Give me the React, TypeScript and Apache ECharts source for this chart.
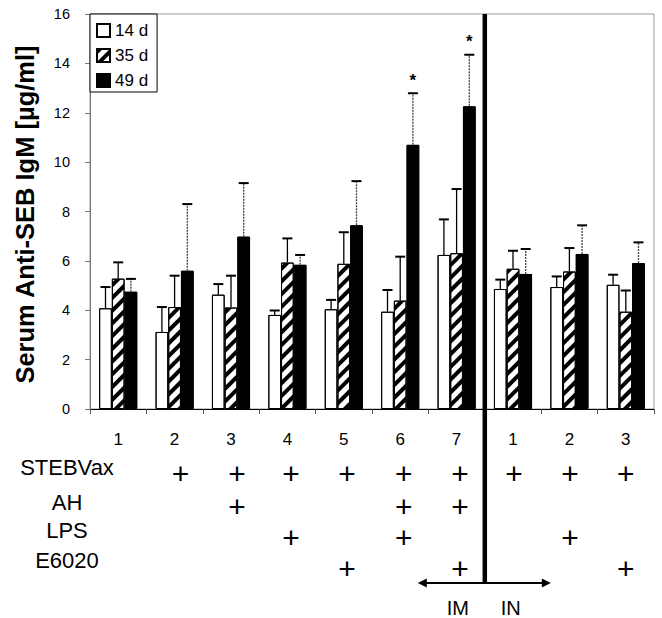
import React, { useEffect, useRef } from 'react';
import * as echarts from 'echarts';

const categories = ['IM 1', 'IM 2', 'IM 3', 'IM 4', 'IM 5', 'IM 6', 'IM 7', 'IN 1', 'IN 2', 'IN 3'];
const tickLabels = ['1', '2', '3', '4', '5', '6', '7', '1', '2', '3'];
const seriesNames = ['14 d', '35 d', '49 d'];

const d14 = [4.08, 3.12, 4.63, 3.81, 4.04, 3.94, 6.24, 4.86, 4.94, 5.03];
const d14Err = [4.94, 4.13, 5.06, 3.99, 4.42, 4.82, 7.68, 5.24, 5.37, 5.44];
const d35 = [5.28, 4.13, 4.11, 5.93, 5.88, 4.39, 6.31, 5.68, 5.57, 3.94];
const d35Err = [5.94, 5.4, 5.4, 6.91, 7.16, 6.17, 8.91, 6.41, 6.52, 4.8];
const d49 = [4.75, 5.6, 6.98, 5.84, 7.44, 10.7, 12.26, 5.47, 6.28, 5.91];
const d49Err = [5.27, 8.3, 9.15, 6.24, 9.23, 12.79, 14.35, 6.48, 7.44, 6.75];
const significant = [0, 0, 0, 0, 0, 1, 1, 0, 0, 0];

const rowNames = ['STEBVax', 'AH', 'LPS', 'E6020'];
const rowFlags = [
  [0, 1, 1, 1, 1, 1, 1, 1, 1, 1],
  [0, 0, 1, 0, 0, 1, 1, 0, 0, 0],
  [0, 0, 0, 1, 0, 1, 0, 0, 1, 0],
  [0, 0, 0, 0, 1, 0, 1, 0, 0, 1],
];
const routeNames = ['IM', 'IN'];

// layout (pixels)
const FONT = "'Liberation Sans', Arial, Helvetica, sans-serif";
const BAR_W = 12.7;
const rowLabelY = [467, 502, 530, 560];
const rowPlusY = [473, 506, 537, 568];
const plusNudge = [5, 6, 6, 3.5, 3.3, 3.6, 3.4, 1, 0.6, 0];
const ARROW_Y = 583;

const invisibleDecal = { color: 'rgba(0,0,0,0)', dashArrayX: [1, 0], dashArrayY: [1, 0] };

function makeErr(vals: number[], errs: number[], s: number, dashed: boolean, stars?: number[]) {
  return {
    type: 'custom',
    name: 'err' + s,
    z: 5,
    silent: true,
    encode: { x: 0, y: [1, 2] },
    data: vals.map((v, i) => [i, v, errs[i], stars ? stars[i] : 0]),
    renderItem: (params: any, api: any) => {
      const i = api.value(0);
      const base = api.coord([i, api.value(1)]);
      const top = api.coord([i, api.value(2)]);
      const x = base[0] + (s - 1) * BAR_W;
      const children: any[] = [
        {
          type: 'line',
          shape: { x1: x, y1: base[1], x2: x, y2: top[1] },
          style: { stroke: dashed ? '#444' : '#000', lineWidth: 1.3, lineDash: dashed ? [2, 1] : null },
        },
        {
          type: 'line',
          shape: { x1: x - 5, y1: top[1], x2: x + 5, y2: top[1] },
          style: { stroke: '#000', lineWidth: 2 },
        },
      ];
      if (api.value(3)) {
        children.push({
          type: 'text',
          x: x,
          y: top[1] - 13,
          style: {
            text: '*',
            fontSize: 17,
            fontWeight: 'bold',
            fontFamily: FONT,
            fill: '#000',
            align: 'center',
            verticalAlign: 'middle',
          },
        });
      }
      return { type: 'group', children };
    },
  };
}

export default function App() {
  const ref = useRef<HTMLDivElement>(null);

  useEffect(() => {
    if (!ref.current) return;
    const chart = echarts.init(ref.current, null, { renderer: 'svg' });

    const option: any = {
      animation: false,
      aria: { enabled: true, decal: { show: true } },
      textStyle: { fontFamily: FONT },
      grid: {
        left: 90,
        right: 8,
        top: 14,
        bottom: 209,
        show: true,
        borderColor: '#999',
        borderWidth: 1,
        backgroundColor: 'transparent',
      },
      legend: {
        data: seriesNames,
        orient: 'vertical',
        left: 90,
        top: 14,
        padding: [8, 9, 3, 6],
        itemWidth: 13,
        itemHeight: 13,
        itemGap: 8,
        icon: 'rect',
        borderColor: '#000',
        borderWidth: 1,
        backgroundColor: '#fff',
        textStyle: { fontSize: 17, color: '#000', fontFamily: FONT, lineHeight: 17 },
      },
      xAxis: {
        type: 'category',
        data: categories,
        axisLine: { lineStyle: { color: '#000', width: 1 } },
        axisTick: { show: true, length: 5, lineStyle: { color: '#555' } },
        axisLabel: {
          formatter: (v: string, i: number) => tickLabels[i],
          fontSize: 17,
          color: '#000',
          margin: 22,
          fontFamily: FONT,
        },
        splitLine: { show: false },
      },
      yAxis: {
        type: 'value',
        min: 0,
        max: 16,
        interval: 2,
        name: 'Serum Anti-SEB IgM [µg/ml]',
        nameLocation: 'middle',
        nameGap: 52,
        nameTextStyle: {
          fontSize: 25.5,
          fontWeight: 'bold',
          color: '#000',
          fontFamily: FONT,
          padding: [0, 6, 0, 0],
        },
        axisLine: { show: true, lineStyle: { color: '#777' } },
        axisTick: { show: true, length: 5, lineStyle: { color: '#777' } },
        axisLabel: { fontSize: 14.5, color: '#000', margin: 20, fontFamily: FONT },
        splitLine: { show: false },
      },
      series: [
        {
          type: 'bar',
          name: seriesNames[0],
          data: d14,
          barWidth: BAR_W,
          barGap: '0%',
          itemStyle: { color: '#fff', borderColor: '#000', borderWidth: 1, decal: invisibleDecal },
        },
        {
          type: 'bar',
          name: seriesNames[1],
          data: d35,
          barWidth: BAR_W,
          barGap: '0%',
          itemStyle: {
            color: '#fff',
            borderColor: '#000',
            borderWidth: 1,
            decal: {
              symbol: 'rect',
              symbolSize: 1,
              color: '#000',
              dashArrayX: [1, 0],
              dashArrayY: [4, 4.5],
              rotation: -Math.PI / 4,
            },
          },
        },
        {
          type: 'bar',
          name: seriesNames[2],
          data: d49,
          barWidth: BAR_W,
          barGap: '0%',
          itemStyle: { color: '#000', borderColor: '#000', borderWidth: 1, decal: invisibleDecal },
        },
        makeErr(d14, d14Err, 0, false),
        makeErr(d35, d35Err, 1, false),
        makeErr(d49, d49Err, 2, true, significant),
      ],
    };

    chart.setOption(option);

    const px = (i: number) => chart.convertToPixel({ xAxisIndex: 0 }, categories[i]) as number;
    const yTop = chart.convertToPixel({ yAxisIndex: 0 }, 16) as number;
    const divX = (px(6) + px(7)) / 2;

    const elements: any[] = [];
    rowNames.forEach((name, r) => {
      elements.push({
        type: 'text',
        x: 67,
        y: rowLabelY[r],
        style: {
          text: name,
          fontSize: 22,
          fontFamily: FONT,
          fill: '#000',
          align: 'center',
          verticalAlign: 'middle',
        },
      });
      rowFlags[r].forEach((f, i) => {
        if (!f) return;
        elements.push({
          type: 'text',
          x: px(i) + plusNudge[i],
          y: rowPlusY[r],
          style: {
            text: '+',
            fontSize: 30,
            fontFamily: FONT,
            fill: '#000',
            align: 'center',
            verticalAlign: 'middle',
          },
        });
      });
    });

    elements.push({
      type: 'line',
      z: 10,
      shape: { x1: divX, y1: yTop, x2: divX, y2: ARROW_Y + 1 },
      style: { stroke: '#000', lineWidth: 4.5 },
    });
    const leftTip = divX - 67;
    const rightTip = divX + 66;
    elements.push({
      type: 'line',
      shape: { x1: leftTip + 6, y1: ARROW_Y, x2: rightTip - 6, y2: ARROW_Y },
      style: { stroke: '#000', lineWidth: 2 },
    });
    elements.push({
      type: 'polygon',
      shape: { points: [[leftTip, ARROW_Y], [leftTip + 9, ARROW_Y - 4.5], [leftTip + 9, ARROW_Y + 4.5]] },
      style: { fill: '#000' },
    });
    elements.push({
      type: 'polygon',
      shape: { points: [[rightTip, ARROW_Y], [rightTip - 9, ARROW_Y - 4.5], [rightTip - 9, ARROW_Y + 4.5]] },
      style: { fill: '#000' },
    });
    elements.push({
      type: 'text',
      x: divX - 27,
      y: 608,
      style: { text: routeNames[0], fontSize: 20, fontFamily: FONT, fill: '#000', align: 'center', verticalAlign: 'middle' },
    });
    elements.push({
      type: 'text',
      x: divX + 26,
      y: 608,
      style: { text: routeNames[1], fontSize: 20, fontFamily: FONT, fill: '#000', align: 'center', verticalAlign: 'middle' },
    });

    chart.setOption({ graphic: { elements } });

    return () => {
      chart.dispose();
    };
  }, []);

  return <div ref={ref} style={{ width: 662, height: 618, position: 'absolute', left: 0, top: 0 }} />;
}
